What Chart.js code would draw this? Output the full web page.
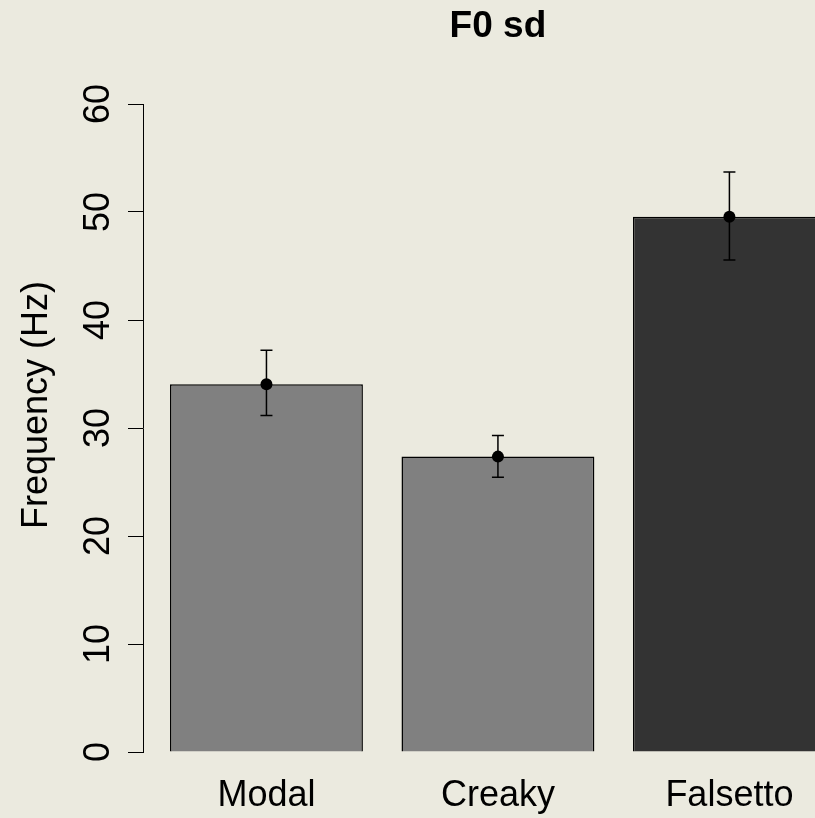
<!DOCTYPE html>
<html>
<head>
<meta charset="utf-8">
<title>F0 sd</title>
<script src="https://cdn.jsdelivr.net/npm/chart.js@4.4.1/dist/chart.umd.min.js"></script>
<style>
	html, body { margin: 0; padding: 0; background: #ebeadf; overflow: hidden; }
	#wrap { width: 815px; height: 818px; }
</style>
</head>
<body>
<div id="wrap"><canvas id="f0Chart"></canvas></div>
<script>
// data
const categories = ['Modal', 'Creaky', 'Falsetto'];
const meanValues = [34.05, 27.35, 49.55];
const errLow = [31.15, 25.45, 45.55];
const errHigh = [37.2, 29.3, 53.7];
const yTicks = [0, 10, 20, 30, 40, 50, 60];
const barColors = ['#808080', '#808080', '#333333'];

const FONT = '"Liberation Sans", Arial, sans-serif';

// barplot style positions: width 1, space 0.2
function barX(i) {
	return 0.7 + 1.2 * i;
}

// background fill
const bgPlugin = {
	id: 'bg',
	beforeDraw(chart) {
		const ctx = chart.ctx;
		ctx.save();
		ctx.fillStyle = '#ebeadf';
		ctx.fillRect(0, 0, chart.width, chart.height);
		ctx.restore();
	}
};

// error bars, drawn just before the mean points
const errorBarPlugin = {
	id: 'errorBars',
	beforeDatasetDraw(chart, args) {
		if (args.index !== 1) return;
		const ctx = chart.ctx;
		const x = chart.scales.x;
		const y = chart.scales.y;
		ctx.save();
		ctx.strokeStyle = '#000';
		ctx.lineWidth = 1.5;
		categories.forEach((c, i) => {
			const px = x.getPixelForValue(barX(i));
			const top = y.getPixelForValue(errHigh[i]);
			const bot = y.getPixelForValue(errLow[i]);
			ctx.beginPath();
			ctx.moveTo(px, top);
			ctx.lineTo(px, bot);
			ctx.moveTo(px - 6, top);
			ctx.lineTo(px + 6, top);
			ctx.moveTo(px - 6, bot);
			ctx.lineTo(px + 6, bot);
			ctx.stroke();
		});
		ctx.restore();
	}
};

// title, rotated y tick labels and y title
const textPlugin = {
	id: 'texts',
	afterDraw(chart) {
		const ctx = chart.ctx;
		const x = chart.scales.x;
		const y = chart.scales.y;
		ctx.save();
		ctx.fillStyle = '#000';

		ctx.font = 'bold 37px ' + FONT;
		ctx.textAlign = 'center';
		ctx.textBaseline = 'alphabetic';
		ctx.fillText('F0 sd', x.getPixelForValue(barX(1)), 37);

		ctx.font = '36px ' + FONT;
		y.ticks.forEach(t => {
			ctx.save();
			ctx.translate(109, y.getPixelForValue(t.value));
			ctx.rotate(-Math.PI / 2);
			ctx.fillText(String(t.value), 0, 0);
			ctx.restore();
		});

		ctx.translate(47, 405);
		ctx.rotate(-Math.PI / 2);
		ctx.fillText('Frequency (Hz)', 0, 0);
		ctx.restore();
	}
};

document.addEventListener('DOMContentLoaded', () => {
	initF0Chart();
});

function initF0Chart() {
	const ctx = document.getElementById('f0Chart');

	if (!ctx) return;

	new Chart(ctx, {
		type: 'bar',
		data: {
			datasets: [
				{
					type: 'bar',
					label: 'F0 sd',
					data: meanValues.map((v, i) => ({ x: barX(i), y: v })),
					backgroundColor: barColors,
					borderColor: '#000',
					borderWidth: 1.5,
					categoryPercentage: 1,
					barPercentage: 1 / 1.2,
					order: 1
				},
				{
					type: 'scatter',
					label: 'mean',
					data: meanValues.map((v, i) => ({ x: barX(i), y: v })),
					backgroundColor: '#000',
					borderWidth: 0,
					pointRadius: 6,
					order: 0
				}
			]
		},
		options: {
			responsive: true,
			maintainAspectRatio: false,
			animation: false,
			layout: {
				autoPadding: false,
				padding: { top: 104, left: 0, right: 0, bottom: 0 }
			},
			plugins: {
				legend: { display: false },
				title: { display: false },
				tooltip: { enabled: false }
			},
			scales: {
				x: {
					type: 'linear',
					min: 0.06,
					max: 3.5437,
					offset: false,
					border: { display: false },
					grid: { display: false, drawTicks: false },
					afterBuildTicks: scale => {
						scale.ticks = categories.map((c, i) => ({ value: barX(i) }));
					},
					afterFit: scale => {
						scale.height = 66;
						// plot region runs past the right edge, as in the original
						scale.paddingLeft = 0;
						scale.paddingRight = 0;
					},
					ticks: {
						autoSkip: false,
						maxRotation: 0,
						padding: 22,
						color: '#000',
						font: { family: FONT, size: 36 },
						callback: (value, index) => categories[index]
					}
				},
				y: {
					min: 0,
					max: 60,
					afterBuildTicks: scale => {
						scale.ticks = yTicks.map(v => ({ value: v }));
					},
					afterFit: scale => {
						scale.width = 143;
					},
					border: { display: true, color: '#000', width: 1 },
					grid: {
						drawOnChartArea: false,
						drawTicks: true,
						tickLength: 15,
						color: '#000',
						lineWidth: 1
					},
					ticks: { display: false }
				}
			}
		},
		plugins: [bgPlugin, errorBarPlugin, textPlugin]
	});
}
</script>
</body>
</html>
